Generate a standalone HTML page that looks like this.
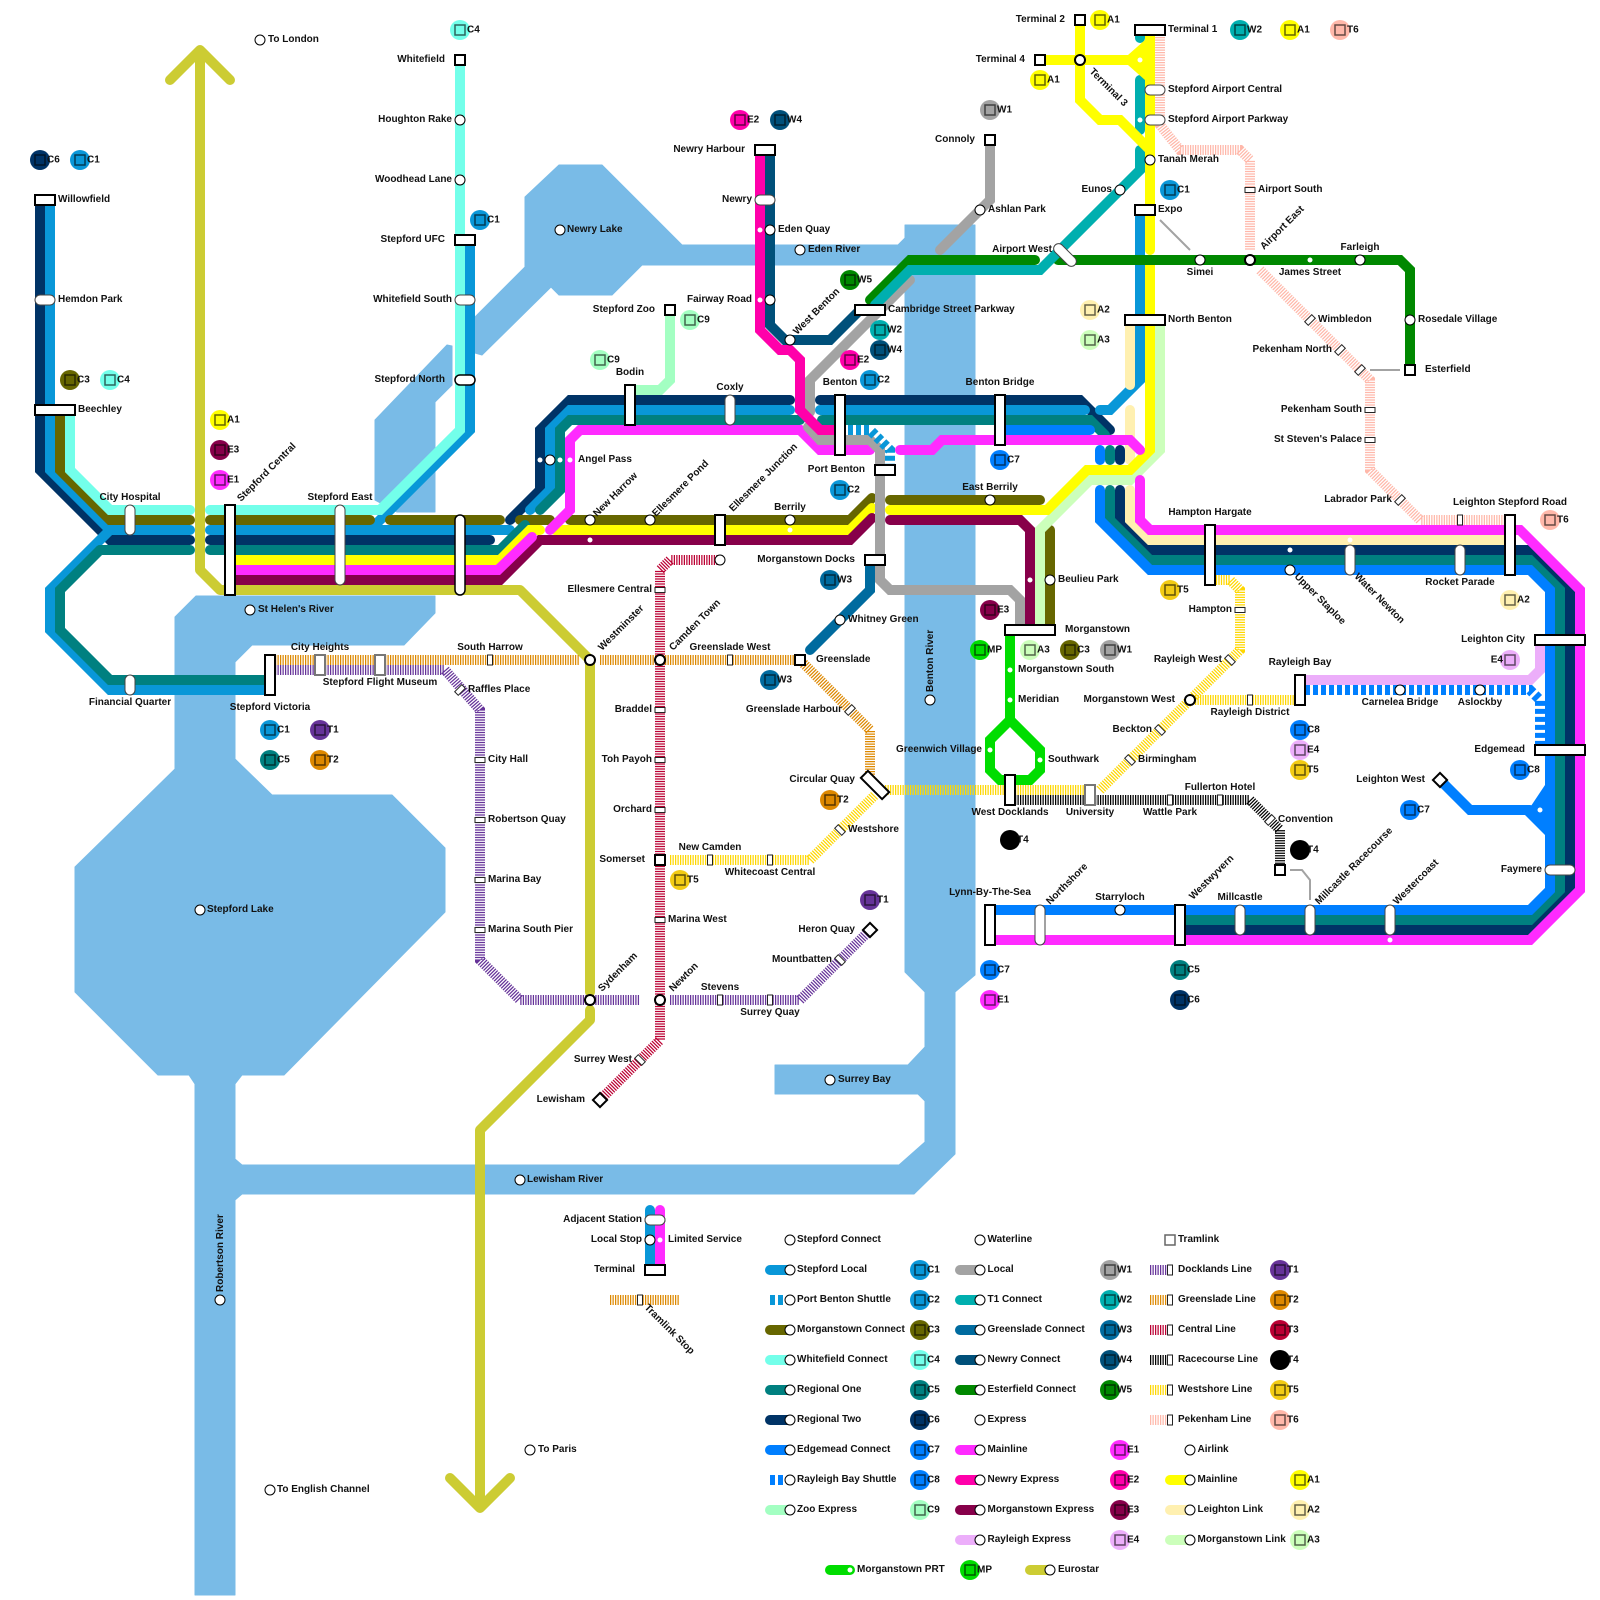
<!DOCTYPE html>
<html><head><meta charset="utf-8"><title>Stepford Network Map</title>
<style>
html,body{margin:0;padding:0;background:#fff}
svg{display:block}
text{font:bold 10px "Liberation Sans",sans-serif;fill:#111}
.m{text-anchor:middle}.e{text-anchor:end}
.l path,.l polyline{fill:none;stroke-width:10;stroke-linecap:round;stroke-miterlimit:10}
.tr path{fill:none;stroke-width:10;stroke-dasharray:1.25 1.25}
.dash{fill:none;stroke-width:10;stroke-dasharray:5 3}
.thin{fill:none;stroke:#a3a3a3;stroke-width:2}
.i{fill:#fff;stroke:#000;stroke-width:2}
.g{fill:#fff;stroke:#777;stroke-width:2}
.p{fill:#fff;stroke:#444;stroke-width:1}
.t{fill:#fff;stroke:#222;stroke-width:1}
.c{fill:#fff;stroke:#000;stroke-width:1}
.r{fill:#fff;stroke:#000;stroke-width:2}
.d{fill:#fff}
.b rect{fill:none;stroke:#000;stroke-opacity:.6;stroke-width:1.5}
</style></head><body>
<svg xmlns="http://www.w3.org/2000/svg" width="1600" height="1600" viewBox="0 0 1600 1600">
<rect width="1600" height="1600" fill="#fff"/>
<!-- water -->
<g fill="#79bbe7" stroke="#79bbe7" stroke-width="1" stroke-linejoin="round">
<polygon points="905,225 975,225 975,975 955,992 955,1154 914,1194 242,1194 235,1200 235,1595 195,1595 195,1084 189,1075 158,1075 75,992 75,867 175,769 175,617 196,596 435,596 435,613 404,645 252,645 235,662 235,759 272,795 392,795 445,848 445,912 284,1075 242,1075 235,1084 235,1159 242,1165 899,1165 925,1142 925,1101 918,1094 775,1094 775,1065 908,1065 925,1047 925,992 905,972"/>
<polygon points="775,245 898,245 905,238 905,265 775,265"/>
<polygon points="559,165 602,165 682,245 760,245 760,265 642,265 612,295 559,295 551,287 482,355 475,353 475,317 525,267 525,197"/>
<polygon points="375,420 447,345 452,346 452,385 435,402 435,512 397,512 375,500"/>
</g>
<!-- lines -->
<g class="l">
<g stroke="#003366">
<path d="M40 200V470L110 540H190M210 540H490"/>
<path d="M510 520L540 490V430L570 400H790M820 400H1080L1110 430"/>
<path d="M1120 450V460M1120 490V520L1150 550H1530L1570 590V890L1530 930H1180"/>
</g>
<g stroke="#0997d8">
<path d="M50 200V470L110 530H190M210 530H510"/>
<path d="M110 530L50 590V630L110 690H270"/>
<path d="M470 240V430L370 530"/>
<path d="M530 510L550 490V430L570 410H790M820 410H1085"/>
<path d="M1140 210V255M1140 265V380L1110 410H1100"/>
</g>
<g stroke="#666600">
<path d="M60 410V470L110 520H190M210 520H370M390 520H500M520 520H550M570 520H850L872 498"/>
<path d="M890 500H1040M1050 530V625"/>
</g>
<path stroke="#73ffea" d="M70 410V470L110 510H190M210 510H380L460 430V60"/>
<g stroke="#008080">
<path d="M100 550H190M210 550H500L525 525"/>
<path d="M100 550L60 590V630L110 680H270"/>
<path d="M540 510L560 490V430L570 420H800M822 420H1090L1105 435"/>
<path d="M1110 450V460M1110 490V520L1150 560H1530L1560 590V890L1530 920H1180"/>
</g>
<path stroke="#fff0b0" d="M1130 320V385M1130 410V460M1130 490V520L1150 540H1510"/>
<path stroke="#ccffbb" d="M1160 320V450L1130 480H1090L1040 530V625"/>
<path stroke="#ffff00" d="M230 560H500L530 530H540M555 530H850L872 508M890 510H1047L1087 470H1130L1150 450V265M1150 250V30"/>
<path stroke="#87004a" d="M230 580H500L540 540H850L872 518M890 520H1020L1030 530V625"/>
<path stroke="#ff2bff" d="M230 570H498L532 537M550 530L570 510V440L580 430H800L820 450H870M900 450H932L942 440H1130L1140 450"/>
<path stroke="#ff2bff" d="M1140 480V520L1150 530H1520L1580 590V890L1530 940H990"/>
<path stroke="#007fff" d="M1000 430H1090M1100 450V460M1100 490V520L1150 570H1530L1550 590V890L1530 910H990"/>
<path stroke="#007fff" d="M1440 780L1470 810H1530"/>
<polygon points="1525,815 1545,785 1555,790 1555,830 1545,835" fill="#007fff"/>
<path stroke="#a3a3a3" d="M990 145V200L940 250M910 280L810 380V412M808 427L820 440H870L880 450V580L890 590H1010L1020 600V625"/>
<path stroke="#008800" d="M870 300L910 260H1035M1058 260H1400L1410 270V365"/>
<path stroke="#00afaf" d="M875 305L910 270H1040L1140 170V150M1140 130V80M1140 35V38"/>
<path stroke="#00507a" d="M770 150V325L785 340H830L860 310"/>
<path stroke="#ff00aa" d="M760 150V330L780 350H790L800 360V410L820 430H835"/>
<path stroke="#a3ffc2" d="M670 310V380L660 390H635"/>
<path stroke="#006b9f" d="M870 565V590L810 650"/>
<path stroke="#ffff00" d="M1080 20V100L1100 120H1120L1150 150M1040 60H1130"/>
<polygon points="1128,55 1145,40 1155,40 1155,80 1145,80 1128,65" fill="#ffff00"/>
<path stroke="#ecaefa" d="M1300 680H1530L1540 670V640"/>
<path stroke="#00dd00" d="M1010 635V720M1010 720L990 740V770L1000 780H1030L1040 770V750Z"/>
<path stroke="#cccc33" stroke-linejoin="round" d="M200 50V570L220 590H520L590 660V992M590 1010V1020L480 1130V1508M170 80L200 50L230 80M450 1478L480 1508L510 1478"/>
</g>
<path class="dash" stroke="#0997d8" d="M840 430H870L890 450V465"/>
<path class="dash" stroke="#007fff" d="M1305 690H1530L1540 700V750"/>
<path class="thin" d="M1160 220L1190 250M1370 370H1400M1290 870H1302L1310 880V900"/>
<!-- tram lines -->
<g class="tr">
<path stroke="#dd8800" d="M275 660H580M600 660H800L870 730V780"/>
<path stroke="#663399" d="M275 670H445L480 710V960L520 1000H640M670 1000H800L870 930"/>
<path stroke="#bb0033" d="M720 560H670L660 570V1040L600 1100"/>
<path stroke="#ffd700" d="M670 860H810L875 795M885 790H1085M1100 790L1240 650V590L1230 580H1215M1190 700H1295"/>
<path stroke="#000" d="M1015 800H1250L1280 830V870"/>
<path stroke="#ffb8aa" d="M1160 37V125L1180 150H1240L1250 160V250M1260 270L1370 380V470L1420 520H1505"/>
</g>
<!-- stations: boxes -->
<g class="i">
<rect x="35" y="195" width="20" height="10"/><rect x="35" y="405" width="40" height="10"/>
<rect x="225" y="505" width="10" height="90"/><rect x="265" y="655" width="10" height="40"/>
<rect x="455" y="55" width="10" height="10"/><rect x="455" y="235" width="20" height="10"/>
<rect x="625" y="385" width="10" height="40"/><rect x="835" y="395" width="10" height="60"/><rect x="995" y="395" width="10" height="50"/>
<rect x="755" y="145" width="20" height="10"/><rect x="855" y="305" width="30" height="10"/>
<rect x="665" y="305" width="10" height="10"/><rect x="985" y="135" width="10" height="10"/>
<rect x="875" y="465" width="20" height="10"/><rect x="865" y="555" width="20" height="10"/><rect x="715" y="515" width="10" height="30"/>
<rect x="1005" y="625" width="50" height="10"/>
<rect x="1135" y="25" width="30" height="10"/><rect x="1075" y="15" width="10" height="10"/><rect x="1035" y="55" width="10" height="10"/>
<rect x="1135" y="205" width="20" height="10"/><rect x="1125" y="315" width="40" height="10"/>
<rect x="1405" y="365" width="10" height="10"/>
<rect x="1205" y="525" width="10" height="60"/><rect x="1505" y="515" width="10" height="60"/>
<rect x="1535" y="635" width="50" height="10"/><rect x="1535" y="745" width="50" height="10"/>
<rect x="1295" y="675" width="10" height="30"/><rect x="1005" y="775" width="10" height="30"/>
<rect x="985" y="905" width="10" height="40"/><rect x="1175" y="905" width="10" height="40"/>
<rect x="795" y="655" width="10" height="10"/><rect x="655" y="855" width="10" height="10"/><rect x="1275" y="865" width="10" height="10"/>
<rect x="-5" y="-5" width="10" height="10" transform="translate(1440 780) rotate(45)"/>
<rect x="-5" y="-5" width="10" height="10" transform="translate(870 930) rotate(45)"/>
<rect x="-5" y="-5" width="10" height="10" transform="translate(600 1100) rotate(45)"/>
<rect x="-15" y="-5" width="30" height="10" transform="translate(875 785) rotate(45)"/>
<rect x="645" y="1265" width="20" height="10"/>
</g>
<g class="g"><rect x="315" y="655" width="10" height="20"/><rect x="375" y="655" width="10" height="20"/><rect x="1085" y="785" width="10" height="20"/></g>
<!-- pills -->
<g class="p">
<rect x="125" y="505" width="10" height="30" rx="5"/><rect x="335" y="505" width="10" height="80" rx="5"/>
<rect x="125" y="675" width="10" height="20" rx="5"/>
<rect x="35" y="295" width="20" height="10" rx="5"/><rect x="455" y="295" width="20" height="10" rx="5"/>
<rect x="725" y="395" width="10" height="30" rx="5"/><rect x="755" y="195" width="20" height="10" rx="5"/>
<rect x="1145" y="85" width="20" height="10" rx="5"/><rect x="1145" y="115" width="20" height="10" rx="5"/>
<rect x="1345" y="545" width="10" height="30" rx="5"/><rect x="1455" y="545" width="10" height="30" rx="5"/>
<rect x="1035" y="905" width="10" height="40" rx="5"/><rect x="1235" y="905" width="10" height="30" rx="5"/>
<rect x="1305" y="905" width="10" height="30" rx="5"/><rect x="1385" y="905" width="10" height="30" rx="5"/>
<rect x="1545" y="865" width="30" height="10" rx="5"/>
<rect x="645" y="1215" width="20" height="10" rx="5"/>
<rect x="-14" y="-5" width="28" height="10" rx="5" transform="translate(1065 255) rotate(45)"/>
</g>
<rect x="455" y="515" width="10" height="80" rx="5" fill="#fff" stroke="#000" stroke-width="1.5"/>
<rect x="455" y="375" width="20" height="10" rx="5" fill="#fff" stroke="#000" stroke-width="1.5"/>
<!-- tram marks -->
<g class="t">
<rect x="487.5" y="655" width="5" height="10"/><rect x="727.5" y="655" width="5" height="10"/>
<rect x="707.5" y="855" width="5" height="10"/><rect x="767.5" y="855" width="5" height="10"/>
<rect x="717.5" y="995" width="5" height="10"/><rect x="767.5" y="995" width="5" height="10"/>
<rect x="1167.5" y="795" width="5" height="10"/><rect x="1217.5" y="795" width="5" height="10"/>
<rect x="1247.5" y="695" width="5" height="10"/><rect x="1457.5" y="515" width="5" height="10"/>
<rect x="655" y="587.5" width="10" height="5"/><rect x="655" y="707.5" width="10" height="5"/><rect x="655" y="757.5" width="10" height="5"/><rect x="655" y="807.5" width="10" height="5"/><rect x="655" y="917.5" width="10" height="5"/>
<rect x="475" y="757.5" width="10" height="5"/><rect x="475" y="817.5" width="10" height="5"/><rect x="475" y="877.5" width="10" height="5"/><rect x="475" y="927.5" width="10" height="5"/>
<rect x="1245" y="187.5" width="10" height="5"/><rect x="1365" y="407.5" width="10" height="5"/><rect x="1365" y="437.5" width="10" height="5"/>
<rect x="1235" y="607.5" width="10" height="5"/>
<rect x="-2.5" y="-5" width="5" height="10" transform="translate(1310 320) rotate(45)"/>
<rect x="-2.5" y="-5" width="5" height="10" transform="translate(1340 350) rotate(45)"/>
<rect x="-2.5" y="-5" width="5" height="10" transform="translate(1360 370) rotate(45)"/>
<rect x="-2.5" y="-5" width="5" height="10" transform="translate(1400 500) rotate(45)"/>
<rect x="-2.5" y="-5" width="5" height="10" transform="translate(1230 660) rotate(-45)"/>
<rect x="-2.5" y="-5" width="5" height="10" transform="translate(1160 730) rotate(-45)"/>
<rect x="-2.5" y="-5" width="5" height="10" transform="translate(1130 760) rotate(-45)"/>
<rect x="-2.5" y="-5" width="5" height="10" transform="translate(840 830) rotate(-45)"/>
<rect x="-2.5" y="-5" width="5" height="10" transform="translate(850 710) rotate(45)"/>
<rect x="-2.5" y="-5" width="5" height="10" transform="translate(640 1060) rotate(-45)"/>
<rect x="-2.5" y="-5" width="5" height="10" transform="translate(840 960) rotate(-45)"/>
<rect x="-2.5" y="-5" width="5" height="10" transform="translate(460 690) rotate(45)"/>
<rect x="-2.5" y="-5" width="5" height="10" transform="translate(1270 820) rotate(45)"/>
</g>
<!-- circles -->
<g class="c">
<circle cx="460" cy="120" r="5"/><circle cx="460" cy="180" r="5"/><circle cx="550" cy="460" r="5"/>
<circle cx="590" cy="520" r="5"/><circle cx="650" cy="520" r="5"/><circle cx="790" cy="520" r="5"/><circle cx="990" cy="500" r="5"/>
<circle cx="770" cy="230" r="5"/><circle cx="770" cy="300" r="5"/><circle cx="790" cy="340" r="5"/>
<circle cx="980" cy="210" r="5"/><circle cx="1120" cy="190" r="5"/><circle cx="1150" cy="160" r="5"/>
<circle cx="1200" cy="260" r="5"/><circle cx="1360" cy="260" r="5"/><circle cx="1410" cy="320" r="5"/>
<circle cx="840" cy="620" r="5"/><circle cx="720" cy="560" r="5"/><circle cx="1050" cy="580" r="5"/>
<circle cx="1290" cy="570" r="5"/><circle cx="1400" cy="690" r="5"/><circle cx="1480" cy="690" r="5"/><circle cx="1120" cy="910" r="5"/>
<circle cx="260" cy="40" r="5"/><circle cx="250" cy="610" r="5"/><circle cx="560" cy="230" r="5"/><circle cx="800" cy="250" r="5"/>
<circle cx="930" cy="700" r="5"/><circle cx="200" cy="910" r="5"/><circle cx="220" cy="1300" r="5"/><circle cx="520" cy="1180" r="5"/>
<circle cx="830" cy="1080" r="5"/><circle cx="530" cy="1450" r="5"/><circle cx="270" cy="1490" r="5"/>
<circle cx="650" cy="1240" r="5"/>
</g>
<g class="r">
<circle cx="1080" cy="60" r="5"/><circle cx="1250" cy="260" r="5"/><circle cx="590" cy="660" r="5"/><circle cx="660" cy="660" r="5"/>
<circle cx="590" cy="1000" r="5"/><circle cx="660" cy="1000" r="5"/><circle cx="1190" cy="700" r="5"/>
</g>
<g class="d">
<circle cx="540" cy="460" r="2.5"/><circle cx="560" cy="460" r="2.5"/><circle cx="570" cy="460" r="2.5"/>
<circle cx="590" cy="540" r="2.5"/><circle cx="790" cy="530" r="2.5"/><circle cx="760" cy="230" r="2.5"/><circle cx="760" cy="300" r="2.5"/>
<circle cx="1140" cy="60" r="2.5"/><circle cx="1140" cy="120" r="2.5"/><circle cx="1310" cy="260" r="2.5"/>
<circle cx="1030" cy="580" r="2.5"/><circle cx="1010" cy="670" r="2.5"/><circle cx="1010" cy="700" r="2.5"/>
<circle cx="990" cy="750" r="2.5"/><circle cx="1040" cy="760" r="2.5"/><circle cx="1290" cy="550" r="2.5"/><circle cx="1350" cy="540" r="2.5"/>
<circle cx="1540" cy="810" r="2.5"/><circle cx="1390" cy="940" r="2.5"/><circle cx="660" cy="1240" r="2.5"/>
</g>
<!-- labels -->
<g>
<text x="268" y="42">To London</text>
<text class="e" x="445" y="62">Whitefield</text><text class="e" x="452" y="122">Houghton Rake</text><text class="e" x="452" y="182">Woodhead Lane</text><text class="e" x="445" y="242">Stepford UFC</text><text class="e" x="452" y="302">Whitefield South</text><text class="e" x="445" y="382">Stepford North</text>
<text x="58" y="202">Willowfield</text><text x="58" y="302">Hemdon Park</text><text x="78" y="412">Beechley</text>
<text class="m" x="130" y="500">City Hospital</text><text class="m" x="340" y="500">Stepford East</text>
<text transform="translate(241 502) rotate(-45)">Stepford Central</text>
<text x="258" y="612">St Helen's River</text>
<text class="m" x="320" y="650">City Heights</text><text class="m" x="380" y="685">Stepford Flight Museum</text><text class="m" x="130" y="705">Financial Quarter</text><text class="m" x="270" y="710">Stepford Victoria</text><text class="m" x="490" y="650">South Harrow</text><text x="468" y="692">Raffles Place</text>
<text class="m" x="630" y="375">Bodin</text><text class="m" x="730" y="390">Coxly</text><text class="m" x="840" y="385">Benton</text><text class="m" x="1000" y="385">Benton Bridge</text>
<text class="e" x="865" y="472">Port Benton</text><text x="578" y="462">Angel Pass</text>
<text transform="translate(597 517) rotate(-45)">New Harrow</text><text transform="translate(656 517) rotate(-45)">Ellesmere Pond</text><text transform="translate(733 512) rotate(-45)">Ellesmere Junction</text>
<text class="m" x="790" y="510">Berrily</text><text class="m" x="990" y="490">East Berrily</text>
<text class="e" x="855" y="562">Morganstown Docks</text><text class="e" x="652" y="592">Ellesmere Central</text><text x="848" y="622">Whitney Green</text><text x="1058" y="582">Beulieu Park</text>
<text transform="translate(602 651) rotate(-45)">Westminster</text><text transform="translate(673 651) rotate(-45)">Camden Town</text>
<text class="m" x="730" y="650">Greenslade West</text><text x="816" y="662">Greenslade</text>
<text x="1065" y="632">Morganstown</text><text x="1018" y="672">Morganstown South</text><text x="1018" y="702">Meridian</text>
<text class="e" x="982" y="752">Greenwich Village</text><text x="1048" y="762">Southwark</text>
<text class="m" x="1010" y="815">West Docklands</text><text class="m" x="1090" y="815">University</text><text class="m" x="1170" y="815">Wattle Park</text><text class="m" x="1220" y="790">Fullerton Hotel</text><text x="1278" y="822">Convention</text>
<text class="e" x="1152" y="732">Beckton</text><text x="1138" y="762">Birmingham</text><text class="e" x="1175" y="702">Morganstown West</text><text class="e" x="1222" y="662">Rayleigh West</text><text class="e" x="1232" y="612">Hampton</text>
<text class="m" x="1210" y="515">Hampton Hargate</text><text class="m" x="1300" y="665">Rayleigh Bay</text><text class="m" x="1250" y="715">Rayleigh District</text><text class="m" x="1400" y="705">Carnelea Bridge</text><text class="m" x="1480" y="705">Aslockby</text>
<text class="e" x="1525" y="642">Leighton City</text><text class="m" x="1510" y="505">Leighton Stepford Road</text><text class="e" x="1392" y="502">Labrador Park</text>
<text class="e" x="1362" y="442">St Steven's Palace</text><text class="e" x="1362" y="412">Pekenham South</text><text class="e" x="1332" y="352">Pekenham North</text>
<text x="1318" y="322">Wimbledon</text><text x="1425" y="372">Esterfield</text><text x="1418" y="322">Rosedale Village</text>
<text class="m" x="1310" y="275">James Street</text><text class="m" x="1200" y="275">Simei</text><text class="m" x="1360" y="250">Farleigh</text>
<text transform="translate(1264 250) rotate(-45)">Airport East</text>
<text x="1168" y="322">North Benton</text><text x="1158" y="212">Expo</text><text x="1258" y="192">Airport South</text><text x="1158" y="162">Tanah Merah</text><text class="e" x="1112" y="192">Eunos</text><text x="988" y="212">Ashlan Park</text><text class="e" x="1052" y="252">Airport West</text>
<text class="e" x="1065" y="22">Terminal 2</text><text class="e" x="1025" y="62">Terminal 4</text><text x="1168" y="32">Terminal 1</text>
<text transform="translate(1089 72) rotate(45)">Terminal 3</text>
<text x="1168" y="92">Stepford Airport Central</text><text x="1168" y="122">Stepford Airport Parkway</text>
<text class="e" x="975" y="142">Connoly</text><text x="888" y="312">Cambridge Street Parkway</text>
<text transform="translate(797 335) rotate(-45)">West Benton</text>
<text class="e" x="752" y="302">Fairway Road</text><text class="e" x="752" y="202">Newry</text><text x="778" y="232">Eden Quay</text><text x="808" y="252">Eden River</text><text class="e" x="745" y="152">Newry Harbour</text><text x="567" y="232">Newry Lake</text><text class="e" x="655" y="312">Stepford Zoo</text>
<text transform="translate(933 692) rotate(-90)">Benton River</text>
<text class="e" x="652" y="712">Braddel</text><text class="e" x="652" y="762">Toh Payoh</text><text class="e" x="652" y="812">Orchard</text><text class="e" x="645" y="862">Somerset</text><text x="668" y="922">Marina West</text>
<text class="e" x="842" y="712">Greenslade Harbour</text><text class="e" x="855" y="782">Circular Quay</text><text x="848" y="832">Westshore</text>
<text class="m" x="710" y="850">New Camden</text><text class="m" x="770" y="875">Whitecoast Central</text><text class="e" x="855" y="932">Heron Quay</text><text class="e" x="832" y="962">Mountbatten</text>
<text class="m" x="720" y="990">Stevens</text><text class="m" x="770" y="1015">Surrey Quay</text>
<text transform="translate(602 992) rotate(-45)">Sydenham</text><text transform="translate(673 992) rotate(-45)">Newton</text>
<text class="e" x="632" y="1062">Surrey West</text><text class="e" x="585" y="1102">Lewisham</text><text x="838" y="1082">Surrey Bay</text>
<text x="488" y="762">City Hall</text><text x="488" y="822">Robertson Quay</text><text x="488" y="882">Marina Bay</text><text x="488" y="932">Marina South Pier</text>
<text x="527" y="1182">Lewisham River</text><text x="207" y="912">Stepford Lake</text><text transform="translate(223 1292) rotate(-90)">Robertson River</text>
<text x="538" y="1452">To Paris</text><text x="277" y="1492">To English Channel</text>
<text class="m" x="990" y="895">Lynn-By-The-Sea</text><text class="m" x="1120" y="900">Starryloch</text><text class="m" x="1240" y="900">Millcastle</text>
<text transform="translate(1050 905) rotate(-45)">Northshore</text><text transform="translate(1193 900) rotate(-45)">Westwyvern</text><text transform="translate(1319 905) rotate(-45)">Millcastle Racecourse</text><text transform="translate(1397 905) rotate(-45)">Westercoast</text>
<text transform="translate(1294 577) rotate(45)">Upper Staploe</text><text transform="translate(1354 577) rotate(45)">Water Newton</text>
<text class="m" x="1460" y="585">Rocket Parade</text><text class="e" x="1542" y="872">Faymere</text><text class="e" x="1525" y="752">Edgemead</text><text class="e" x="1425" y="782">Leighton West</text>
</g>
<!-- badges -->
<g class="b">
<g transform="translate(40 160)"><circle r="10" fill="#003366"/><rect x="-5" y="-5" width="10" height="10"/><text x="7" y="2.5">C6</text></g>
<g transform="translate(80 160)"><circle r="10" fill="#0997d8"/><rect x="-5" y="-5" width="10" height="10"/><text x="7" y="2.5">C1</text></g>
<g transform="translate(70 380)"><circle r="10" fill="#666600"/><rect x="-5" y="-5" width="10" height="10"/><text x="7" y="2.5">C3</text></g>
<g transform="translate(110 380)"><circle r="10" fill="#73ffea"/><rect x="-5" y="-5" width="10" height="10"/><text x="7" y="2.5">C4</text></g>
<g transform="translate(460 30)"><circle r="10" fill="#73ffea"/><rect x="-5" y="-5" width="10" height="10"/><text x="7" y="2.5">C4</text></g>
<g transform="translate(480 220)"><circle r="10" fill="#0997d8"/><rect x="-5" y="-5" width="10" height="10"/><text x="7" y="2.5">C1</text></g>
<g transform="translate(220 420)"><circle r="10" fill="#ffff00"/><rect x="-5" y="-5" width="10" height="10"/><text x="7" y="2.5">A1</text></g>
<g transform="translate(220 450)"><circle r="10" fill="#87004a"/><rect x="-5" y="-5" width="10" height="10"/><text x="7" y="2.5">E3</text></g>
<g transform="translate(220 480)"><circle r="10" fill="#ff2bff"/><rect x="-5" y="-5" width="10" height="10"/><text x="7" y="2.5">E1</text></g>
<g transform="translate(690 320)"><circle r="10" fill="#a3ffc2"/><rect x="-5" y="-5" width="10" height="10"/><text x="7" y="2.5">C9</text></g>
<g transform="translate(600 360)"><circle r="10" fill="#a3ffc2"/><rect x="-5" y="-5" width="10" height="10"/><text x="7" y="2.5">C9</text></g>
<g transform="translate(740 120)"><circle r="10" fill="#ff00aa"/><rect x="-5" y="-5" width="10" height="10"/><text x="7" y="2.5">E2</text></g>
<g transform="translate(780 120)"><circle r="10" fill="#00507a"/><rect x="-5" y="-5" width="10" height="10"/><text x="7" y="2.5">W4</text></g>
<g transform="translate(990 110)"><circle r="10" fill="#a3a3a3"/><rect x="-5" y="-5" width="10" height="10"/><text x="7" y="2.5">W1</text></g>
<g transform="translate(850 280)"><circle r="10" fill="#008800"/><rect x="-5" y="-5" width="10" height="10"/><text x="7" y="2.5">W5</text></g>
<g transform="translate(880 330)"><circle r="10" fill="#00afaf"/><rect x="-5" y="-5" width="10" height="10"/><text x="7" y="2.5">W2</text></g>
<g transform="translate(880 350)"><circle r="10" fill="#00507a"/><rect x="-5" y="-5" width="10" height="10"/><text x="7" y="2.5">W4</text></g>
<g transform="translate(850 360)"><circle r="10" fill="#ff00aa"/><rect x="-5" y="-5" width="10" height="10"/><text x="7" y="2.5">E2</text></g>
<g transform="translate(870 380)"><circle r="10" fill="#0997d8"/><rect x="-5" y="-5" width="10" height="10"/><text x="7" y="2.5">C2</text></g>
<g transform="translate(840 490)"><circle r="10" fill="#0997d8"/><rect x="-5" y="-5" width="10" height="10"/><text x="7" y="2.5">C2</text></g>
<g transform="translate(1000 460)"><circle r="10" fill="#007fff"/><rect x="-5" y="-5" width="10" height="10"/><text x="7" y="2.5">C7</text></g>
<g transform="translate(1090 310)"><circle r="10" fill="#fff0b0"/><rect x="-5" y="-5" width="10" height="10"/><text x="7" y="2.5">A2</text></g>
<g transform="translate(1090 340)"><circle r="10" fill="#ccffbb"/><rect x="-5" y="-5" width="10" height="10"/><text x="7" y="2.5">A3</text></g>
<g transform="translate(1100 20)"><circle r="10" fill="#ffff00"/><rect x="-5" y="-5" width="10" height="10"/><text x="7" y="2.5">A1</text></g>
<g transform="translate(1040 80)"><circle r="10" fill="#ffff00"/><rect x="-5" y="-5" width="10" height="10"/><text x="7" y="2.5">A1</text></g>
<g transform="translate(1240 30)"><circle r="10" fill="#00afaf"/><rect x="-5" y="-5" width="10" height="10"/><text x="7" y="2.5">W2</text></g>
<g transform="translate(1290 30)"><circle r="10" fill="#ffff00"/><rect x="-5" y="-5" width="10" height="10"/><text x="7" y="2.5">A1</text></g>
<g transform="translate(1340 30)"><circle r="10" fill="#ffb8aa"/><rect x="-5" y="-5" width="10" height="10"/><text x="7" y="2.5">T6</text></g>
<g transform="translate(1170 190)"><circle r="10" fill="#0997d8"/><rect x="-5" y="-5" width="10" height="10"/><text x="7" y="2.5">C1</text></g>
<g transform="translate(1550 520)"><circle r="10" fill="#ffb8aa"/><rect x="-5" y="-5" width="10" height="10"/><text x="7" y="2.5">T6</text></g>
<g transform="translate(1510 600)"><circle r="10" fill="#fff0b0"/><rect x="-5" y="-5" width="10" height="10"/><text x="7" y="2.5">A2</text></g>
<g transform="translate(1510 660)"><circle r="10" fill="#ecaefa"/><rect x="-5" y="-5" width="10" height="10"/><text class="e" x="-7" y="2.5">E4</text></g>
<g transform="translate(1170 590)"><circle r="10" fill="#f2cb14"/><rect x="-5" y="-5" width="10" height="10"/><text x="7" y="2.5">T5</text></g>
<g transform="translate(990 610)"><circle r="10" fill="#87004a"/><rect x="-5" y="-5" width="10" height="10"/><text x="7" y="2.5">E3</text></g>
<g transform="translate(980 650)"><circle r="10" fill="#00dd00"/><rect x="-5" y="-5" width="10" height="10"/><text x="7" y="2.5">MP</text></g>
<g transform="translate(1030 650)"><circle r="10" fill="#ccffbb"/><rect x="-5" y="-5" width="10" height="10"/><text x="7" y="2.5">A3</text></g>
<g transform="translate(1070 650)"><circle r="10" fill="#666600"/><rect x="-5" y="-5" width="10" height="10"/><text x="7" y="2.5">C3</text></g>
<g transform="translate(1110 650)"><circle r="10" fill="#a3a3a3"/><rect x="-5" y="-5" width="10" height="10"/><text x="7" y="2.5">W1</text></g>
<g transform="translate(1300 730)"><circle r="10" fill="#007fff"/><rect x="-5" y="-5" width="10" height="10"/><text x="7" y="2.5">C8</text></g>
<g transform="translate(1300 750)"><circle r="10" fill="#ecaefa"/><rect x="-5" y="-5" width="10" height="10"/><text x="7" y="2.5">E4</text></g>
<g transform="translate(1300 770)"><circle r="10" fill="#f2cb14"/><rect x="-5" y="-5" width="10" height="10"/><text x="7" y="2.5">T5</text></g>
<g transform="translate(1520 770)"><circle r="10" fill="#007fff"/><rect x="-5" y="-5" width="10" height="10"/><text x="7" y="2.5">C8</text></g>
<g transform="translate(1410 810)"><circle r="10" fill="#007fff"/><rect x="-5" y="-5" width="10" height="10"/><text x="7" y="2.5">C7</text></g>
<g transform="translate(1010 840)"><circle r="10" fill="#000"/><text x="7" y="2.5">T4</text></g>
<g transform="translate(1300 850)"><circle r="10" fill="#000"/><text x="7" y="2.5">T4</text></g>
<g transform="translate(270 730)"><circle r="10" fill="#0997d8"/><rect x="-5" y="-5" width="10" height="10"/><text x="7" y="2.5">C1</text></g>
<g transform="translate(320 730)"><circle r="10" fill="#663399"/><rect x="-5" y="-5" width="10" height="10"/><text x="7" y="2.5">T1</text></g>
<g transform="translate(270 760)"><circle r="10" fill="#008080"/><rect x="-5" y="-5" width="10" height="10"/><text x="7" y="2.5">C5</text></g>
<g transform="translate(320 760)"><circle r="10" fill="#dd8800"/><rect x="-5" y="-5" width="10" height="10"/><text x="7" y="2.5">T2</text></g>
<g transform="translate(830 580)"><circle r="10" fill="#006b9f"/><rect x="-5" y="-5" width="10" height="10"/><text x="7" y="2.5">W3</text></g>
<g transform="translate(770 680)"><circle r="10" fill="#006b9f"/><rect x="-5" y="-5" width="10" height="10"/><text x="7" y="2.5">W3</text></g>
<g transform="translate(830 800)"><circle r="10" fill="#dd8800"/><rect x="-5" y="-5" width="10" height="10"/><text x="7" y="2.5">T2</text></g>
<g transform="translate(680 880)"><circle r="10" fill="#f2cb14"/><rect x="-5" y="-5" width="10" height="10"/><text x="7" y="2.5">T5</text></g>
<g transform="translate(870 900)"><circle r="10" fill="#663399"/><rect x="-5" y="-5" width="10" height="10"/><text x="7" y="2.5">T1</text></g>
<g transform="translate(990 970)"><circle r="10" fill="#007fff"/><rect x="-5" y="-5" width="10" height="10"/><text x="7" y="2.5">C7</text></g>
<g transform="translate(990 1000)"><circle r="10" fill="#ff2bff"/><rect x="-5" y="-5" width="10" height="10"/><text x="7" y="2.5">E1</text></g>
<g transform="translate(1180 970)"><circle r="10" fill="#008080"/><rect x="-5" y="-5" width="10" height="10"/><text x="7" y="2.5">C5</text></g>
<g transform="translate(1180 1000)"><circle r="10" fill="#003366"/><rect x="-5" y="-5" width="10" height="10"/><text x="7" y="2.5">C6</text></g>
<!-- legend badges -->
<g transform="translate(920 1270)"><circle r="10" fill="#0997d8"/><rect x="-5" y="-5" width="10" height="10"/><text x="7" y="2.5">C1</text></g>
<g transform="translate(920 1300)"><circle r="10" fill="#0997d8"/><rect x="-5" y="-5" width="10" height="10"/><text x="7" y="2.5">C2</text></g>
<g transform="translate(920 1330)"><circle r="10" fill="#666600"/><rect x="-5" y="-5" width="10" height="10"/><text x="7" y="2.5">C3</text></g>
<g transform="translate(920 1360)"><circle r="10" fill="#73ffea"/><rect x="-5" y="-5" width="10" height="10"/><text x="7" y="2.5">C4</text></g>
<g transform="translate(920 1390)"><circle r="10" fill="#008080"/><rect x="-5" y="-5" width="10" height="10"/><text x="7" y="2.5">C5</text></g>
<g transform="translate(920 1420)"><circle r="10" fill="#003366"/><rect x="-5" y="-5" width="10" height="10"/><text x="7" y="2.5">C6</text></g>
<g transform="translate(920 1450)"><circle r="10" fill="#007fff"/><rect x="-5" y="-5" width="10" height="10"/><text x="7" y="2.5">C7</text></g>
<g transform="translate(920 1480)"><circle r="10" fill="#007fff"/><rect x="-5" y="-5" width="10" height="10"/><text x="7" y="2.5">C8</text></g>
<g transform="translate(920 1510)"><circle r="10" fill="#a3ffc2"/><rect x="-5" y="-5" width="10" height="10"/><text x="7" y="2.5">C9</text></g>
<g transform="translate(1110 1270)"><circle r="10" fill="#a3a3a3"/><rect x="-5" y="-5" width="10" height="10"/><text x="7" y="2.5">W1</text></g>
<g transform="translate(1110 1300)"><circle r="10" fill="#00afaf"/><rect x="-5" y="-5" width="10" height="10"/><text x="7" y="2.5">W2</text></g>
<g transform="translate(1110 1330)"><circle r="10" fill="#006b9f"/><rect x="-5" y="-5" width="10" height="10"/><text x="7" y="2.5">W3</text></g>
<g transform="translate(1110 1360)"><circle r="10" fill="#00507a"/><rect x="-5" y="-5" width="10" height="10"/><text x="7" y="2.5">W4</text></g>
<g transform="translate(1110 1390)"><circle r="10" fill="#008800"/><rect x="-5" y="-5" width="10" height="10"/><text x="7" y="2.5">W5</text></g>
<g transform="translate(1120 1450)"><circle r="10" fill="#ff2bff"/><rect x="-5" y="-5" width="10" height="10"/><text x="7" y="2.5">E1</text></g>
<g transform="translate(1120 1480)"><circle r="10" fill="#ff00aa"/><rect x="-5" y="-5" width="10" height="10"/><text x="7" y="2.5">E2</text></g>
<g transform="translate(1120 1510)"><circle r="10" fill="#87004a"/><rect x="-5" y="-5" width="10" height="10"/><text x="7" y="2.5">E3</text></g>
<g transform="translate(1120 1540)"><circle r="10" fill="#ecaefa"/><rect x="-5" y="-5" width="10" height="10"/><text x="7" y="2.5">E4</text></g>
<g transform="translate(1280 1270)"><circle r="10" fill="#663399"/><rect x="-5" y="-5" width="10" height="10"/><text x="7" y="2.5">T1</text></g>
<g transform="translate(1280 1300)"><circle r="10" fill="#dd8800"/><rect x="-5" y="-5" width="10" height="10"/><text x="7" y="2.5">T2</text></g>
<g transform="translate(1280 1330)"><circle r="10" fill="#bb0033"/><rect x="-5" y="-5" width="10" height="10"/><text x="7" y="2.5">T3</text></g>
<g transform="translate(1280 1360)"><circle r="10" fill="#000"/><text x="7" y="2.5">T4</text></g>
<g transform="translate(1280 1390)"><circle r="10" fill="#f2cb14"/><rect x="-5" y="-5" width="10" height="10"/><text x="7" y="2.5">T5</text></g>
<g transform="translate(1280 1420)"><circle r="10" fill="#ffb8aa"/><rect x="-5" y="-5" width="10" height="10"/><text x="7" y="2.5">T6</text></g>
<g transform="translate(1300 1480)"><circle r="10" fill="#ffff00"/><rect x="-5" y="-5" width="10" height="10"/><text x="7" y="2.5">A1</text></g>
<g transform="translate(1300 1510)"><circle r="10" fill="#fff0b0"/><rect x="-5" y="-5" width="10" height="10"/><text x="7" y="2.5">A2</text></g>
<g transform="translate(1300 1540)"><circle r="10" fill="#ccffbb"/><rect x="-5" y="-5" width="10" height="10"/><text x="7" y="2.5">A3</text></g>
<g transform="translate(970 1570)"><circle r="10" fill="#00dd00"/><rect x="-5" y="-5" width="10" height="10"/><text x="7" y="2.5">MP</text></g>
</g>
<!-- legend key -->
<g class="l">
<path stroke="#0997d8" d="M650 1210V1265"/><path stroke="#ff2bff" d="M660 1210V1265"/>
<path stroke="#0997d8" d="M770 1270H790"/><path stroke="#666600" d="M770 1330H790"/><path stroke="#73ffea" d="M770 1360H790"/><path stroke="#008080" d="M770 1390H790"/><path stroke="#003366" d="M770 1420H790"/><path stroke="#007fff" d="M770 1450H790"/><path stroke="#a3ffc2" d="M770 1510H790"/>
<path stroke="#a3a3a3" d="M960 1270H980"/><path stroke="#00afaf" d="M960 1300H980"/><path stroke="#006b9f" d="M960 1330H980"/><path stroke="#00507a" d="M960 1360H980"/><path stroke="#008800" d="M960 1390H980"/><path stroke="#ff2bff" d="M960 1450H980"/><path stroke="#ff00aa" d="M960 1480H980"/><path stroke="#87004a" d="M960 1510H980"/><path stroke="#ecaefa" d="M960 1540H980"/>
<path stroke="#ffff00" d="M1170 1480H1190"/><path stroke="#fff0b0" d="M1170 1510H1190"/><path stroke="#ccffbb" d="M1170 1540H1190"/>
<path stroke="#00dd00" d="M830 1570H850"/><path stroke="#cccc33" d="M1030 1570H1050"/>
</g>
<path class="dash" stroke="#0997d8" d="M770 1300H786"/><path class="dash" stroke="#007fff" d="M770 1480H786"/>
<g class="tr">
<path stroke="#dd8800" d="M610 1300H680"/>
<path stroke="#663399" d="M1150 1270H1168"/><path stroke="#dd8800" d="M1150 1300H1168"/><path stroke="#bb0033" d="M1150 1330H1168"/><path stroke="#000" d="M1150 1360H1168"/><path stroke="#ffd700" d="M1150 1390H1168"/><path stroke="#ffb8aa" d="M1150 1420H1168"/>
</g>
<g class="t">
<rect x="637.5" y="1295" width="5" height="10"/>
<rect x="1167.5" y="1265" width="5" height="10"/><rect x="1167.5" y="1295" width="5" height="10"/><rect x="1167.5" y="1325" width="5" height="10"/><rect x="1167.5" y="1355" width="5" height="10"/><rect x="1167.5" y="1385" width="5" height="10"/><rect x="1167.5" y="1415" width="5" height="10"/>
</g>
<rect class="p" x="645" y="1215" width="20" height="10" rx="5"/>
<rect class="i" x="645" y="1265" width="20" height="10"/>
<circle class="c" cx="650" cy="1240" r="5"/><circle class="d" cx="660" cy="1240" r="2.5"/>
<rect x="1165" y="1235" width="10" height="10" fill="#fff" stroke="#666" stroke-width="1.5"/>
<g class="c">
<circle cx="790" cy="1240" r="5"/><circle cx="790" cy="1270" r="5"/><circle cx="790" cy="1300" r="5"/><circle cx="790" cy="1330" r="5"/><circle cx="790" cy="1360" r="5"/><circle cx="790" cy="1390" r="5"/><circle cx="790" cy="1420" r="5"/><circle cx="790" cy="1450" r="5"/><circle cx="790" cy="1480" r="5"/><circle cx="790" cy="1510" r="5"/>
<circle cx="980" cy="1240" r="5"/><circle cx="980" cy="1270" r="5"/><circle cx="980" cy="1300" r="5"/><circle cx="980" cy="1330" r="5"/><circle cx="980" cy="1360" r="5"/><circle cx="980" cy="1390" r="5"/><circle cx="980" cy="1420" r="5"/><circle cx="980" cy="1450" r="5"/><circle cx="980" cy="1480" r="5"/><circle cx="980" cy="1510" r="5"/><circle cx="980" cy="1540" r="5"/>
<circle cx="1190" cy="1450" r="5"/><circle cx="1190" cy="1480" r="5"/><circle cx="1190" cy="1510" r="5"/><circle cx="1190" cy="1540" r="5"/><circle cx="1050" cy="1570" r="5"/>
</g>
<circle class="d" cx="850" cy="1570" r="2.5"/>
<g>
<text class="e" x="642" y="1222">Adjacent Station</text><text class="e" x="642" y="1242">Local Stop</text><text x="668" y="1242">Limited Service</text><text class="e" x="635" y="1272">Terminal</text>
<text transform="translate(644 1308) rotate(45)">Tramlink Stop</text>
<text x="797" y="1242">Stepford Connect</text><text x="797" y="1272">Stepford Local</text><text x="797" y="1302">Port Benton Shuttle</text><text x="797" y="1332">Morganstown Connect</text><text x="797" y="1362">Whitefield Connect</text><text x="797" y="1392">Regional One</text><text x="797" y="1422">Regional Two</text><text x="797" y="1452">Edgemead Connect</text><text x="797" y="1482">Rayleigh Bay Shuttle</text><text x="797" y="1512">Zoo Express</text>
<text x="987.5" y="1242">Waterline</text><text x="987.5" y="1272">Local</text><text x="987.5" y="1302">T1 Connect</text><text x="987.5" y="1332">Greenslade Connect</text><text x="987.5" y="1362">Newry Connect</text><text x="987.5" y="1392">Esterfield Connect</text><text x="987.5" y="1422">Express</text><text x="987.5" y="1452">Mainline</text><text x="987.5" y="1482">Newry Express</text><text x="987.5" y="1512">Morganstown Express</text><text x="987.5" y="1542">Rayleigh Express</text>
<text x="1178" y="1242">Tramlink</text><text x="1178" y="1272">Docklands Line</text><text x="1178" y="1302">Greenslade Line</text><text x="1178" y="1332">Central Line</text><text x="1178" y="1362">Racecourse Line</text><text x="1178" y="1392">Westshore Line</text><text x="1178" y="1422">Pekenham Line</text>
<text x="1197.5" y="1452">Airlink</text><text x="1197.5" y="1482">Mainline</text><text x="1197.5" y="1512">Leighton Link</text><text x="1197.5" y="1542">Morganstown Link</text>
<text x="857" y="1572">Morganstown PRT</text><text x="1058" y="1572">Eurostar</text>
</g>
</svg>
</body></html>
